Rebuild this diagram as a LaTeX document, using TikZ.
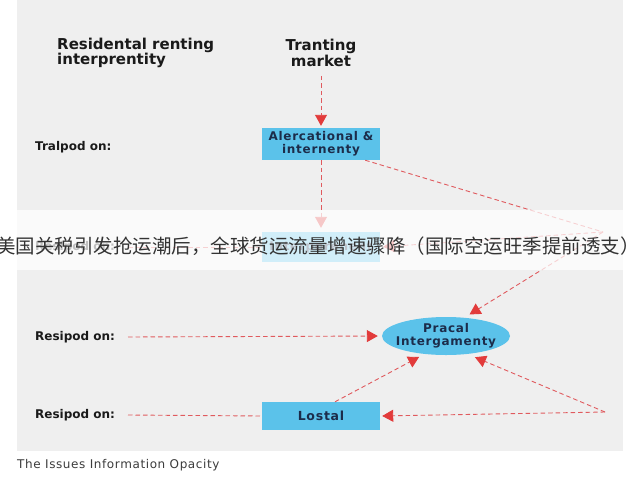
\documentclass[tikz,border=0pt]{standalone}
\usepackage{fontspec}
\setmainfont{DejaVu Sans}
\newfontfamily\cjk{Noto Sans CJK SC}
\newfontfamily\boxfont[LetterSpace=6]{DejaVu Sans Bold}
\newfontfamily\capfont[LetterSpace=5]{DejaVu Sans}
\usetikzlibrary{arrows.meta,shapes.geometric,calc}
\definecolor{panel}{HTML}{EFEFEF}
\definecolor{boxblue}{HTML}{5BC2EA}
\definecolor{arrred}{HTML}{E23B3B}
\definecolor{dashred}{HTML}{E05A5E}
\definecolor{navy}{HTML}{1C2C4A}
\definecolor{txt}{HTML}{1A1A1A}
\tikzset{
  hdr/.style={font=\fontsize{15}{15.5}\selectfont\bfseries, text=txt, align=left, inner sep=0pt},
  lbl/.style={font=\fontsize{12}{13}\selectfont\bfseries, text=txt, anchor=west, inner sep=0pt},
  bluebox/.style={rectangle, fill=boxblue, minimum width=118pt, text=navy, align=center,
    font=\boxfont\fontsize{12}{13}\selectfont, inner sep=0pt},
  blueell/.style={ellipse, fill=boxblue, minimum width=128pt, minimum height=38pt, text=navy,
    align=center, font=\boxfont\fontsize{12}{13}\selectfont, inner xsep=-12pt, inner ysep=-4pt},
  dline/.style={draw=dashred, line width=0.9pt, dash pattern=on 4.5pt off 3pt},
  arr/.style={dline, -{Triangle[length=11pt,width=12pt,fill=arrred,color=arrred]}},
}
\begin{document}
\begin{tikzpicture}[x=1pt,y=-1pt]
\useasboundingbox (0,0) rectangle (640,480);
\fill[white] (0,0) rectangle (640,480);
\fill[panel] (17,0) rectangle (623,451);

% headers
\node[hdr, anchor=west] (t1) at (57,53) {Residental renting\\interprentity};
\node[hdr, align=center] (t2) at (321,53) {Tranting\\market};

% nodes
\node[bluebox, minimum height=32pt] (a) at (321,144) {Alercational \&\\internenty};
\node[bluebox, minimum height=30pt] (b) at (321,247) {Interporenent};
\node[blueell] (c) at (446,336) {Pracal\\Intergamenty};
\node[bluebox, minimum height=28pt, font=\boxfont\fontsize{12.5}{14}\selectfont] (d) at (321,416) {Lostal};

% labels
\node[lbl] (l1) at (35,147) {Tralpod on:};
\node[lbl] (l2) at (35,247) {Resipod on:};
\node[lbl] (l3) at (35,337) {Resipod on:};
\node[lbl] (l4) at (35,415) {Resipod on:};

\coordinate (s2) at (128,247);
\coordinate (s3) at (128,337);
\coordinate (s4) at (128,415);
\coordinate (v) at (603,232);
\coordinate (w) at (605,412);

% connectors
\draw[arr, shorten <=9pt, shorten >=2pt] (t2.south) -- (a.north);
\draw[arr, shorten >=4pt] (a.south) -- (b.north);
\draw[dline] ($(a.south east)+(-15,0)$) -- (v);
\draw[arr, shorten >=6pt] (v) -- (c.45);
\draw[dline] (s2) -- (b.west);
\draw[arr, shorten >=3pt] (v) -- (b.east);
\draw[arr, shorten >=4pt] (s3) -- (c.west);
\draw[dline] (s4) -- (d.west);
\draw[arr, shorten >=6pt] ($(d.north)+(14,0)$) -- (c.220);
\draw[arr, shorten >=8pt] (w) -- (c.-40);
\draw[arr, shorten >=2pt] (w) -- (d.east);

% caption
\node[font=\capfont\fontsize{12}{13}\selectfont, text=txt!85, anchor=west, inner sep=0pt] (cap) at (17,465) {The Issues Information Opacity};

% overlay band
\fill[white, opacity=0.72] (0,210) rectangle (640,270);
\node[font=\cjk\fontsize{19.5}{21}\selectfont, text=black!80, inner sep=0pt] (ov) at (318,246)
  {美国关税引发抢运潮后，全球货运流量增速骤降（国际空运旺季提前透支）};
\end{tikzpicture}
\end{document}
